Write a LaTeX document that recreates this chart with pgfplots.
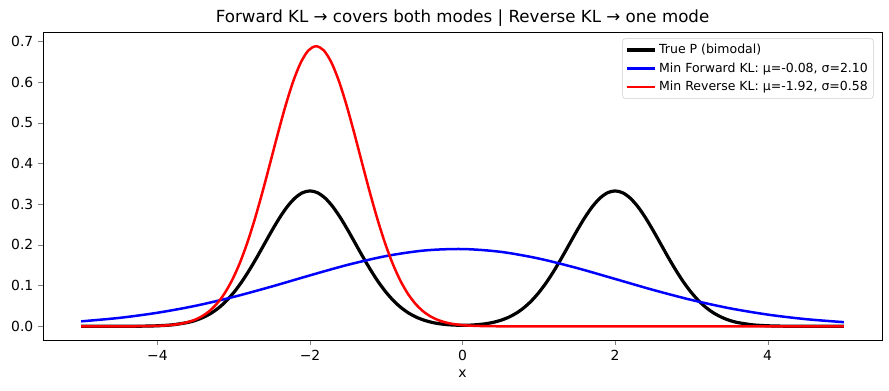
\documentclass[border=0pt]{standalone}
\usepackage{fontspec}
\setmainfont{DejaVu Sans}
\usepackage{pgfplots}
\pgfplotsset{compat=1.18}
\begin{document}
\begin{tikzpicture}
\path[use as bounding box] (-31pt,-36pt) rectangle (609pt,245pt);
\begin{axis}[
  at={(0,0)}, anchor=south west,
  scale only axis, width=604pt, height=221.8pt,
  xmin=-5.5, xmax=5.5, ymin=-0.0344, ymax=0.7222,
  xtick={-4,-2,0,2,4}, xticklabels={−4,−2,0,2,4},
  ytick={0,0.1,0.2,0.3,0.4,0.5,0.6,0.7},
  yticklabel style={/pgf/number format/.cd, fixed, fixed zerofill, precision=1},
  /pgf/number format/assume math mode=true,
  tick label style={font=\fontsize{10}{12}\selectfont},
  tick align=outside, tick pos=left, major tick length=3.5pt,
  xlabel={x}, xlabel style={font=\fontsize{10}{12}\selectfont, yshift=0pt},
  title={Forward KL → covers both modes | Reverse KL → one mode},
  title style={font=\fontsize{12}{14}\selectfont, yshift=-5.5pt},
  axis line style={line width=0.8pt},
  legend style={at={(0.99,0.98)}, anchor=north east, font=\fontsize{9}{11}\selectfont,
    draw=black!20, rounded corners=2pt, row sep=1pt, inner sep=2pt},
  legend cell align=left,
  legend image code/.code={\draw[#1] (0pt,0pt) -- (20pt,0pt);},
]
\addplot[black, line width=2.3pt, smooth] coordinates {
(-5,0) (-4.6,0) (-4.4,0.0001) (-4.2,0.0004) (-4.0,0.0013) (-3.8,0.0037) (-3.6,0.0095)
(-3.5,0.0146) (-3.4,0.0219) (-3.3,0.0318) (-3.2,0.0450) (-3.1,0.0619) (-3.0,0.0829)
(-2.9,0.1079) (-2.8,0.1367) (-2.7,0.1683) (-2.6,0.2016) (-2.5,0.2349) (-2.4,0.2662)
(-2.3,0.2934) (-2.2,0.3145) (-2.1,0.3279) (-2.0,0.3325) (-1.9,0.3279) (-1.8,0.3145)
(-1.7,0.2934) (-1.6,0.2662) (-1.5,0.2349) (-1.4,0.2016) (-1.3,0.1683) (-1.2,0.1367)
(-1.1,0.1079) (-1.0,0.0829) (-0.9,0.0619) (-0.8,0.0450) (-0.7,0.0318) (-0.6,0.0219)
(-0.5,0.0147) (-0.4,0.0096) (-0.3,0.0062) (-0.2,0.0041) (-0.1,0.0029) (0,0.0026)
(0.1,0.0029) (0.2,0.0041) (0.3,0.0062) (0.4,0.0096) (0.5,0.0147) (0.6,0.0219)
(0.7,0.0318) (0.8,0.0450) (0.9,0.0619) (1.0,0.0829) (1.1,0.1079) (1.2,0.1367)
(1.3,0.1683) (1.4,0.2016) (1.5,0.2349) (1.6,0.2662) (1.7,0.2934) (1.8,0.3145)
(1.9,0.3279) (2.0,0.3325) (2.1,0.3279) (2.2,0.3145) (2.3,0.2934) (2.4,0.2662)
(2.5,0.2349) (2.6,0.2016) (2.7,0.1683) (2.8,0.1367) (2.9,0.1079) (3.0,0.0829)
(3.1,0.0619) (3.2,0.0450) (3.3,0.0318) (3.4,0.0219) (3.5,0.0146) (3.6,0.0095)
(3.8,0.0037) (4.0,0.0013) (4.2,0.0004) (4.4,0.0001) (4.6,0) (5,0)
};
\addlegendentry{True P (bimodal)}
\addplot[blue, line width=1.8pt, smooth] coordinates {
(-5,0.0122) (-4.5,0.0207) (-4,0.0333) (-3.5,0.0504) (-3,0.0723) (-2.5,0.0978)
(-2,0.1251) (-1.5,0.1512) (-1,0.1726) (-0.5,0.1862) (0,0.1898) (0.5,0.1829)
(1,0.1664) (1.5,0.1431) (2,0.1163) (2.5,0.0893) (3,0.0648) (3.5,0.0444)
(4,0.0288) (4.5,0.0176) (5,0.0102)
};
\addlegendentry{Min Forward KL: μ=-0.08, σ=2.10}
\addplot[red, line width=1.8pt, smooth] coordinates {
(-5,0) (-4.72,0) (-4.52,0.00003) (-4.32,0.0001) (-4.12,0.0005) (-3.92,0.0018)
(-3.82,0.0032) (-3.72,0.0056) (-3.62,0.0094) (-3.52,0.0153) (-3.42,0.0243)
(-3.32,0.0373) (-3.22,0.0558) (-3.12,0.0809) (-3.02,0.1139) (-2.92,0.1556)
(-2.82,0.2064) (-2.72,0.2657) (-2.62,0.3321) (-2.52,0.4028) (-2.42,0.4744)
(-2.32,0.5422) (-2.22,0.6017) (-2.12,0.6481) (-2.02,0.6777) (-1.92,0.6878)
(-1.82,0.6777) (-1.72,0.6481) (-1.62,0.6017) (-1.52,0.5422) (-1.42,0.4744)
(-1.32,0.4028) (-1.22,0.3321) (-1.12,0.2657) (-1.02,0.2064) (-0.92,0.1556)
(-0.82,0.1139) (-0.72,0.0809) (-0.62,0.0558) (-0.52,0.0373) (-0.42,0.0243)
(-0.32,0.0153) (-0.22,0.0094) (-0.12,0.0056) (-0.02,0.0032) (0.08,0.0018)
(0.28,0.0005) (0.48,0.0001) (0.68,0) (1,0) (5,0)
};
\addlegendentry{Min Reverse KL: μ=-1.92, σ=0.58}
\end{axis}
\end{tikzpicture}
\end{document}
